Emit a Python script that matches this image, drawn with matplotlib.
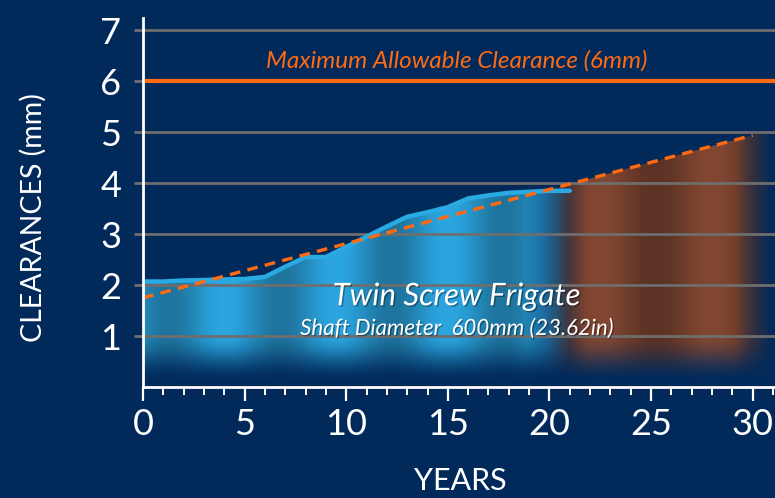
from matplotlib import pyplot as plt
from matplotlib.patches import Polygon
from matplotlib.ticker import MultipleLocator
import matplotlib.patheffects as pe
import numpy

# measured clearance, years 0..21
years = [0, 1, 2, 3, 4, 5, 6, 7, 8, 9, 10, 11, 12, 13, 14, 15, 16, 17, 18, 19, 20, 21]
clearance = [2.07, 2.07, 2.09, 2.10, 2.11, 2.12, 2.16, 2.36, 2.55, 2.55, 2.75,
             2.95, 3.15, 3.34, 3.43, 3.53, 3.70, 3.76, 3.81, 3.83, 3.85, 3.85]

# dashed trend (end points)
trend_years = [0, 30]
trend_vals = [1.75, 4.94]

max_clearance = 6
x_ticks = [0, 5, 10, 15, 20, 25, 30]
y_ticks = [1, 2, 3, 4, 5, 6, 7]

NAVY = '#012a5b'
BLUE_LINE = '#2aaae2'
ORANGE = '#ff6a13'
FONT = 'Lato'


def gradient(xx, yy, rgb, weight, phase):
    # vertical fade towards the bottom, soft vertical banding
    fade = numpy.clip((yy - 0.08) / 0.95, 0, 1)
    fade = fade * fade * (3 - 2 * fade)
    band = 0.85 + 0.15 * numpy.cos(2 * numpy.pi * (xx - phase) / 5.5)
    img = numpy.zeros(xx.shape + (4,))
    for i in range(3):
        img[..., i] = rgb[i] * band
    img[..., 3] = fade * weight
    return img


def main():
    plt.rcParams['font.family'] = FONT

    fig = plt.figure(figsize=(7.75, 4.98), dpi=100, facecolor=NAVY)
    ax = fig.add_axes([143 / 775, 1 - 387 / 498, 1 - 143 / 775, 369 / 498])
    ax.set_facecolor(NAVY)

    xmax, ymax = 31.1, 7.24
    ax.set_xlim(0, xmax)
    ax.set_ylim(0, ymax)

    # gradient fills
    gx = numpy.linspace(0, xmax, 700)
    gy = numpy.linspace(0, ymax, 300)
    xx, yy = numpy.meshgrid(gx, gy)

    w_blue = numpy.clip((21.0 - xx) / 2.2, 0, 1)
    w_org = numpy.clip((xx - 19.4) / 2.4, 0, 1) * numpy.clip((31.0 - xx) / 1.8, 0, 1) * 0.92

    blue_img = gradient(xx, yy, (0.17, 0.65, 0.88), w_blue, 4.0)
    org_img = gradient(xx, yy, (0.56, 0.29, 0.18), w_org, 22.5)

    blue_poly = Polygon(list(zip(years, clearance)) + [(years[-1], 0), (0, 0)],
                        closed=True, transform=ax.transData, facecolor='none', edgecolor='none')
    trend = numpy.poly1d(numpy.polyfit(trend_years, trend_vals, 1))
    tx = numpy.array([18.5, xmax])
    org_poly = Polygon(list(zip(tx, trend(tx))) + [(xmax, 0), (18.5, 0)],
                       closed=True, transform=ax.transData, facecolor='none', edgecolor='none')
    ax.add_patch(blue_poly)
    ax.add_patch(org_poly)

    im1 = ax.imshow(org_img, extent=[0, xmax, 0, ymax], origin='lower', aspect='auto',
                    interpolation='bilinear', zorder=1)
    im1.set_clip_path(org_poly)
    im2 = ax.imshow(blue_img, extent=[0, xmax, 0, ymax], origin='lower', aspect='auto',
                    interpolation='bilinear', zorder=1.1)
    im2.set_clip_path(blue_poly)

    # grid
    ax.set_yticks(y_ticks)
    ax.grid(True, axis='y', color='#6e6e6e', linewidth=2, zorder=2)
    ax.set_axisbelow(False)

    ax.plot(years, clearance, color=BLUE_LINE, linewidth=3.2, solid_capstyle='round', zorder=3)
    ax.plot(trend_years, trend_vals, color=ORANGE, linewidth=2.4, dashes=(3.2, 2.2), zorder=4)
    ax.axhline(max_clearance, color=ORANGE, linewidth=3, zorder=4)

    shadow = [pe.withSimplePatchShadow(offset=(1, -1), shadow_rgbFace='black', alpha=0.35)]
    ax.text(15.45, 6.4, 'Maximum Allowable Clearance (6mm)', color=ORANGE, fontsize=17.5,
            style='italic', ha='center', va='center', zorder=5)
    ax.text(15.45, 1.78, 'Twin Screw Frigate', color='white', fontsize=22.5,
            style='italic', ha='center', va='center', zorder=5, path_effects=shadow)
    ax.text(15.45, 1.14, 'Shaft Diameter  600mm (23.62in)', color='white', fontsize=16,
            style='italic', ha='center', va='center', zorder=5, path_effects=shadow)

    # axes styling
    for s in ['top', 'right']:
        ax.spines[s].set_visible(False)
    for s in ['left', 'bottom']:
        ax.spines[s].set_color('white')
        ax.spines[s].set_linewidth(2)
        ax.spines[s].set_zorder(6)

    ax.set_xticks(x_ticks)
    ax.xaxis.set_minor_locator(MultipleLocator(1))
    ax.tick_params(axis='x', which='major', direction='out', length=10, width=1.6,
                   colors='white', labelsize=26, pad=5)
    ax.tick_params(axis='x', which='minor', direction='out', length=5.5, width=1.4, colors='white')
    ax.tick_params(axis='y', which='major', direction='out', length=6.5, width=2,
                   color='#6e6e6e', labelcolor='white', labelsize=26, pad=9)

    fig.text(460 / 775, 1 - 481 / 498, 'YEARS', color='white', fontsize=22,
             ha='center', va='center')
    fig.text(33 / 775, 1 - 218 / 498, 'CLEARANCES (mm)', color='white', fontsize=20.5,
             ha='center', va='center', rotation=90)

    plt.savefig('out.png', dpi=100, facecolor=NAVY)


if __name__ == '__main__':
    main()
